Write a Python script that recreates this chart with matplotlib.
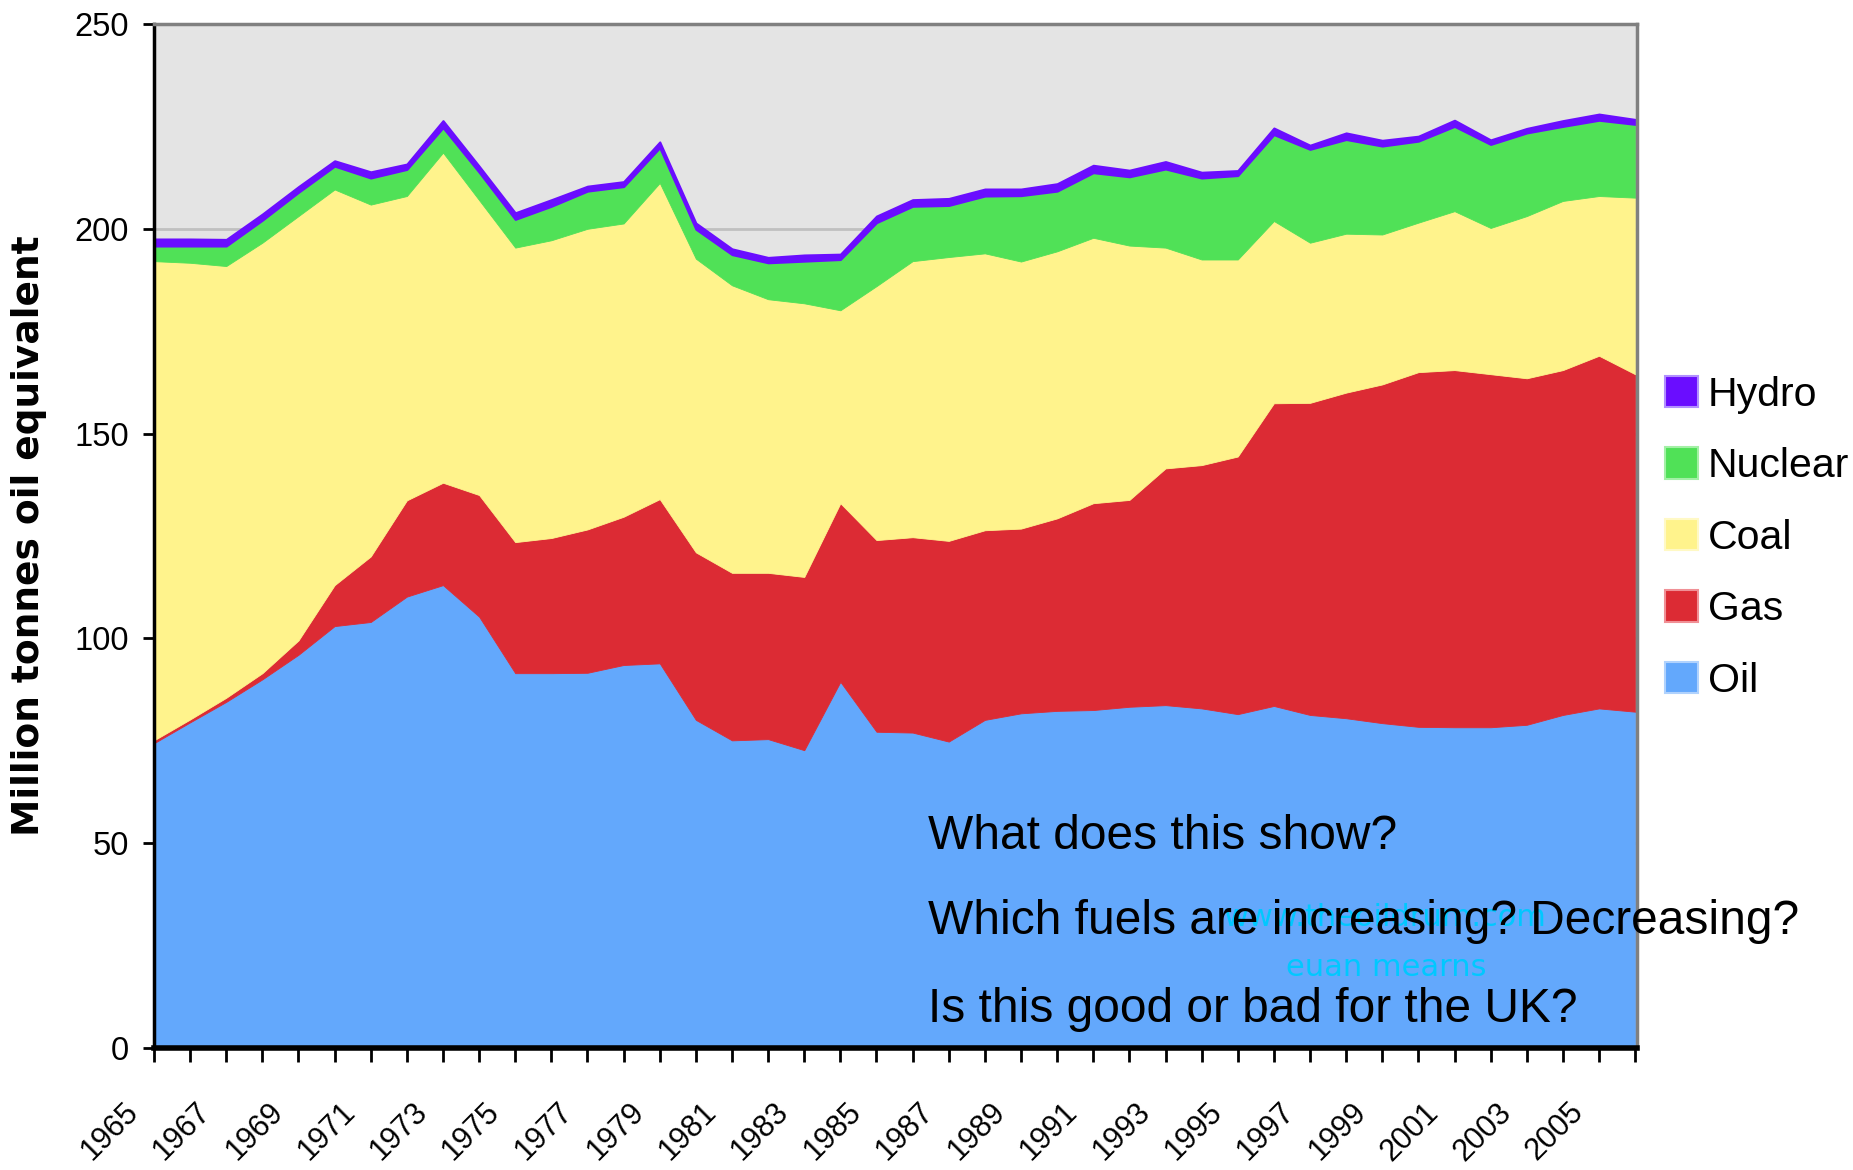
import matplotlib.pyplot as plt
from matplotlib.patches import Patch
from matplotlib.transforms import ScaledTranslation
import numpy as np

# UK primary energy consumption, million tonnes oil equivalent
years = list(range(1965, 2007))
oil = [74.4, 79.5, 84.5, 90.0, 96.0, 103.0, 104.0, 110.2, 113.0, 105.3,
       91.5, 91.5, 91.6, 93.5, 93.9, 80.1, 75.1, 75.4, 72.7, 89.4,
       77.2, 77.0, 74.8, 80.1, 81.7, 82.3, 82.5, 83.3, 83.7, 82.9,
       81.5, 83.5, 81.3, 80.5, 79.3, 78.4, 78.3, 78.3, 78.9, 81.3,
       82.9, 82.1]
gas = [0.7, 0.7, 1.0, 1.5, 3.5, 10.0, 16.0, 23.5, 25.0, 29.7,
       32.0, 33.0, 35.0, 36.2, 40.1, 40.9, 40.9, 40.6, 42.3, 43.6,
       46.8, 47.7, 49.0, 46.3, 45.1, 47.0, 50.5, 50.5, 57.8, 59.4,
       62.9, 73.9, 76.2, 79.5, 82.7, 86.6, 87.2, 86.2, 84.6, 84.2,
       86.1, 82.4]
coal = [117.0, 111.5, 105.4, 105.1, 103.6, 96.6, 85.9, 74.3, 80.6, 72.0,
        71.9, 72.7, 73.4, 71.6, 77.2, 71.7, 70.2, 66.8, 66.8, 47.1,
        62.0, 67.4, 69.3, 67.6, 65.2, 65.2, 64.8, 62.1, 53.9, 50.2,
        48.1, 44.5, 39.1, 38.8, 36.6, 36.5, 38.8, 35.7, 39.6, 41.3,
        39.0, 43.1]
nuclear = [3.7, 4.1, 4.9, 5.5, 5.8, 5.7, 6.5, 6.5, 6.1, 6.8,
           6.9, 8.3, 9.2, 9.0, 8.6, 7.2, 7.5, 8.9, 10.3, 12.4,
           15.5, 13.4, 12.6, 14.0, 16.1, 14.7, 15.9, 16.8, 19.2, 19.9,
           20.5, 21.1, 22.8, 23.0, 21.6, 19.9, 20.7, 20.4, 20.3, 18.2,
           18.5, 17.9]
hydro = [1.7, 1.7, 1.6, 1.5, 1.4, 1.3, 1.5, 1.3, 1.7, 1.5,
         1.6, 1.6, 1.2, 1.2, 1.4, 1.5, 1.4, 1.3, 1.5, 1.3,
         1.6, 1.6, 1.7, 1.7, 1.6, 1.8, 1.8, 1.6, 1.8, 1.4,
         1.2, 1.6, 1.0, 1.6, 1.4, 1.2, 1.5, 1.1, 1.1, 1.4,
         1.5, 1.2]

labels = ['Oil', 'Gas', 'Coal', 'Nuclear', 'Hydro']
colors = ['#63a8fc', '#dc2b34', '#fff38c', '#50e157', '#6a0dff']
edge_colors = ['#b0d2fd', '#f09096', '#fff9c5', '#a3f0a6', '#b290ff']

sans = ['Liberation Sans', 'DejaVu Sans']

fig = plt.figure(figsize=(18.53, 11.70), dpi=100)
ax = fig.add_axes([0.0831, 0.1043, 0.8003, 0.8752])
ax.set_facecolor('#e4e4e4')

polys = ax.stackplot(years, oil, gas, coal, nuclear, hydro, colors=colors,
                     linewidth=0.6, zorder=2)
for p, c in zip(polys, colors):
    p.set_edgecolor(c)
polys[-1].set_linewidth(1.5)

# grid (only visible above the stack)
for v in [50, 100, 150, 200]:
    ax.axhline(v, color='#c0c0c0', linewidth=2, zorder=1)

ax.set_xlim(1965, 2006.05)
ax.set_ylim(0, 250)
ax.set_yticks(np.arange(0, 251, 50))
ax.set_xticks(years)
ax.set_xticklabels([str(y) if (y - 1965) % 2 == 0 else '' for y in years],
                   rotation=45, ha='right', va='center', rotation_mode='anchor',
                   family=sans, fontsize=22)
ax.tick_params(axis='x', length=10, width=2, pad=33, color='black')
ax.tick_params(axis='y', length=8, width=2, pad=10, labelsize=23.5)
for t in ax.get_yticklabels():
    t.set_family(sans)
shift = ScaledTranslation(-0.20, 0, fig.dpi_scale_trans)
for t in ax.get_xticklabels():
    t.set_transform(t.get_transform() + shift)

for side in ['left', 'bottom']:
    ax.spines[side].set_color('black')
ax.spines['left'].set_linewidth(2.5)
ax.spines['bottom'].set_linewidth(4)
for side in ['top', 'right']:
    ax.spines[side].set_color('#808080')
    ax.spines[side].set_linewidth(2.5)

ax.set_ylabel('Million tonnes oil equivalent', fontsize=27, fontweight='bold',
              family='DejaVu Sans')
ax.yaxis.set_label_coords(-0.072, 0.5)

handles = [Patch(facecolor=c, edgecolor=e, linewidth=1.5)
           for c, e in zip(colors, edge_colors)]
fig.legend(handles[::-1], labels[::-1], loc='upper left',
           bbox_to_anchor=(0.8985, 0.679), frameon=False,
           prop={'family': sans, 'size': 29.5},
           handlelength=0.8, handleheight=0.8, handletextpad=0.25,
           labelspacing=0.82, borderpad=0, borderaxespad=0)

# watermark
fig.text(0.7475, 0.2154, 'www.theoildrum.com', color='#00c8ff', fontsize=22,
         family='DejaVu Sans', ha='center', va='center', zorder=3)
fig.text(0.748, 0.1735, 'euan mearns', color='#00c8ff', fontsize=22,
         family='DejaVu Sans', ha='center', va='center', zorder=3)

# questions
qfont = dict(fontsize=34.5, family=sans, color='black',
             ha='left', va='center', zorder=4)
fig.text(0.5008, 0.285, 'What does this show?', **qfont)
fig.text(0.5008, 0.212, 'Which fuels are increasing? Decreasing?', **qfont)
fig.text(0.5008, 0.137, 'Is this good or bad for the UK?', **qfont)

fig.savefig('out.png', dpi=100)
